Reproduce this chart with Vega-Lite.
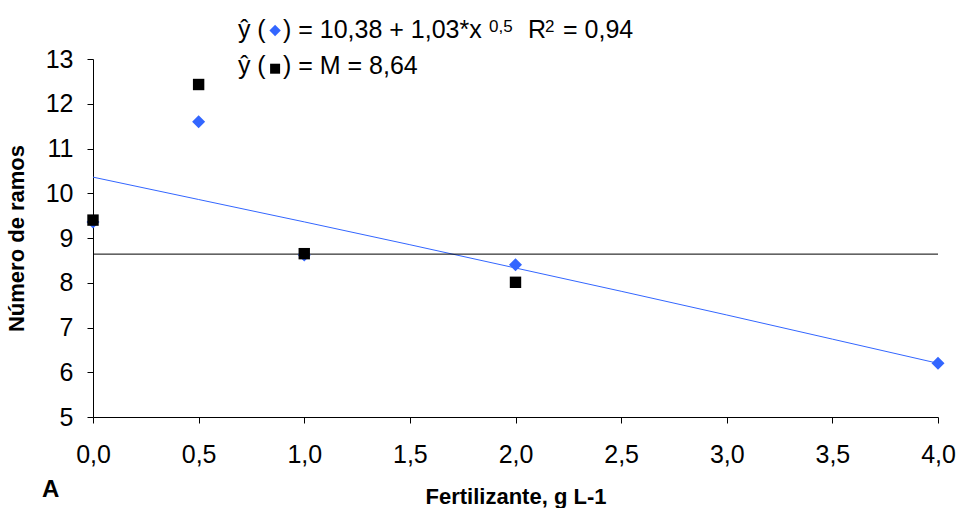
{
  "$schema": "https://vega.github.io/schema/vega-lite/v6.json",
  "width": 845,
  "height": 358,
  "autosize": {"type": "none"},
  "padding": {"left": 93, "top": 59, "right": 20, "bottom": 91},
  "background": "white",
  "config": {
    "view": {"stroke": null},
    "font": "Liberation Sans",
    "axis": {"grid": false, "domainColor": "#000", "tickColor": "#000", "labelColor": "#000", "titleColor": "#000", "labelFont": "Liberation Sans", "titleFont": "Liberation Sans", "labelFontSize": 25, "labelFontWeight": "normal", "tickSize": 6, "domainWidth": 1, "tickWidth": 1, "labelFlush": false}
  },
  "datasets": {
    "pts": [
      {"x": 0, "y": 9.36, "s": "dia"},
      {"x": 0.5, "y": 11.6, "s": "dia"},
      {"x": 1, "y": 8.62, "s": "dia"},
      {"x": 2, "y": 8.4, "s": "dia"},
      {"x": 4, "y": 6.2, "s": "dia"},
      {"x": 0, "y": 9.4, "s": "sq"},
      {"x": 0.5, "y": 12.43, "s": "sq"},
      {"x": 1, "y": 8.65, "s": "sq"},
      {"x": 2, "y": 8.01, "s": "sq"}
    ],
    "fit": [
      {"x": 0, "y": 10.36},
      {"x": 0.5, "y": 9.86},
      {"x": 1, "y": 9.36},
      {"x": 1.5, "y": 8.85},
      {"x": 2, "y": 8.33},
      {"x": 2.5, "y": 7.81},
      {"x": 3, "y": 7.28},
      {"x": 3.5, "y": 6.74},
      {"x": 4, "y": 6.2}
    ],
    "mean": [{"x": 0, "x2": 4, "y": 8.64}],
    "txt": [
      {"t": "ŷ (", "x": 0.686, "y": 13.463, "k": "main"},
      {"t": ") = 10,38 + 1,03*x", "x": 0.899, "y": 13.463, "k": "main"},
      {"t": "0,5", "x": 1.875, "y": 13.6, "k": "sup"},
      {"t": "R", "x": 2.059, "y": 13.463, "k": "main"},
      {"t": "2", "x": 2.14, "y": 13.6, "k": "sup"},
      {"t": "= 0,94", "x": 2.225, "y": 13.463, "k": "main"},
      {"t": "ŷ (", "x": 0.686, "y": 12.665, "k": "main"},
      {"t": ") = M = 8,64", "x": 0.899, "y": 12.665, "k": "main"}
    ],
    "sym": [
      {"x": 0.862, "y": 13.637, "s": "dia"},
      {"x": 0.862, "y": 12.783, "s": "sq"}
    ],
    "panel": [{"t": "A", "x": -0.241, "y": 3.212}]
  },
  "layer": [
    {
      "data": {"name": "fit"},
      "mark": {"type": "line", "color": "#3366FF", "strokeWidth": 1},
      "encoding": {
        "x": {"field": "x", "type": "quantitative", "scale": {"domain": [0, 4], "nice": false, "zero": false},
          "axis": {"values": [0, 0.5, 1, 1.5, 2, 2.5, 3, 3.5, 4], "labelExpr": "replace(format(datum.value, '.1f'), '.', ',')", "labelPadding": 19, "title": "Fertilizante, g L-1", "titleFontSize": 22, "titleFontWeight": "bold", "titlePadding": 19},
          "title": "Fertilizante, g L-1"},
        "y": {"field": "y", "type": "quantitative", "scale": {"domain": [5, 13], "nice": false, "zero": false},
          "axis": {"values": [5, 6, 7, 8, 9, 10, 11, 12, 13], "format": "d", "labelPadding": 14, "title": "Número de ramos", "titleFontSize": 22, "titleFontWeight": "bold", "titlePadding": 17},
          "title": "Número de ramos"}
      }
    },
    {
      "data": {"name": "mean"},
      "mark": {"type": "rule", "color": "#000", "strokeWidth": 1},
      "encoding": {
        "x": {"field": "x", "type": "quantitative"},
        "x2": {"field": "x2"},
        "y": {"field": "y", "type": "quantitative"}
      }
    },
    {
      "data": {"name": "pts"},
      "transform": [{"filter": "datum.s == 'dia'"}],
      "mark": {"type": "point", "shape": "diamond", "filled": true, "color": "#3366FF", "size": 169, "opacity": 1},
      "encoding": {
        "x": {"field": "x", "type": "quantitative"},
        "y": {"field": "y", "type": "quantitative"}
      }
    },
    {
      "data": {"name": "pts"},
      "transform": [{"filter": "datum.s == 'sq'"}],
      "mark": {"type": "point", "shape": "square", "filled": true, "color": "#000", "size": 130, "opacity": 1},
      "encoding": {
        "x": {"field": "x", "type": "quantitative"},
        "y": {"field": "y", "type": "quantitative"}
      }
    },
    {
      "data": {"name": "txt"},
      "transform": [{"filter": "datum.k == 'main'"}],
      "mark": {"type": "text", "align": "left", "baseline": "alphabetic", "fontSize": 25, "font": "Liberation Sans", "color": "#000", "letterSpacing": 1.2},
      "encoding": {
        "x": {"field": "x", "type": "quantitative"},
        "y": {"field": "y", "type": "quantitative"},
        "text": {"field": "t"}
      }
    },
    {
      "data": {"name": "txt"},
      "transform": [{"filter": "datum.k == 'sup'"}],
      "mark": {"type": "text", "align": "left", "baseline": "alphabetic", "fontSize": 17, "font": "Liberation Sans", "color": "#000", "letterSpacing": 0.5},
      "encoding": {
        "x": {"field": "x", "type": "quantitative"},
        "y": {"field": "y", "type": "quantitative"},
        "text": {"field": "t"}
      }
    },
    {
      "data": {"name": "sym"},
      "transform": [{"filter": "datum.s == 'dia'"}],
      "mark": {"type": "point", "shape": "diamond", "filled": true, "color": "#3366FF", "size": 130, "opacity": 1},
      "encoding": {
        "x": {"field": "x", "type": "quantitative"},
        "y": {"field": "y", "type": "quantitative"}
      }
    },
    {
      "data": {"name": "sym"},
      "transform": [{"filter": "datum.s == 'sq'"}],
      "mark": {"type": "point", "shape": "square", "filled": true, "color": "#000", "size": 100, "opacity": 1},
      "encoding": {
        "x": {"field": "x", "type": "quantitative"},
        "y": {"field": "y", "type": "quantitative"}
      }
    },
    {
      "data": {"name": "panel"},
      "mark": {"type": "text", "align": "left", "baseline": "alphabetic", "fontSize": 24, "fontWeight": "bold", "font": "Liberation Sans", "color": "#000"},
      "encoding": {
        "x": {"field": "x", "type": "quantitative"},
        "y": {"field": "y", "type": "quantitative"},
        "text": {"field": "t"}
      }
    }
  ]
}
